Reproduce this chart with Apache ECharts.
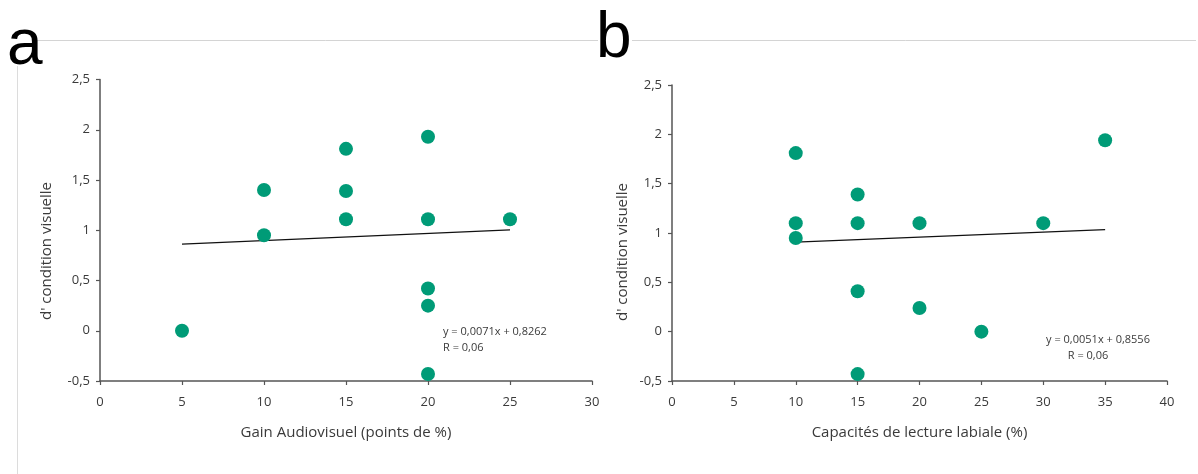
<!DOCTYPE html>
<html>
<head>
<meta charset="utf-8">
<script src="https://cdn.jsdelivr.net/npm/echarts@6/dist/echarts.min.js"></script>
<style>
html,body{margin:0;padding:0;background:#fff;}
#chart{width:1198px;height:474px;}
</style>
</head>
<body>
<div id="chart"></div>
<script>
// Panel a: Gain Audiovisuel (points de %) vs d' condition visuelle
var gainX = [5, 10, 10, 15, 15, 15, 20, 20, 25, 20, 20, 20];
var gainY = [0.00, 1.40, 0.95, 1.81, 1.39, 1.11, 1.93, 1.11, 1.11, 0.42, 0.25, -0.43];
// Panel b: Capacités de lecture labiale (%) vs d' condition visuelle
var lectX = [10, 10, 10, 15, 15, 15, 15, 20, 20, 25, 30, 35];
var lectY = [1.81, 1.10, 0.95, 1.39, 1.10, 0.41, -0.43, 1.10, 0.24, 0.00, 1.10, 1.94];
// Regression lines (slope, intercept, x range) as printed on the chart
var fitA = {slope: 0.0071, intercept: 0.8262, x: [5, 25]};
var fitB = {slope: 0.0051, intercept: 0.8556, x: [10, 35]};
var eqA = ["y = 0,0071x + 0,8262", "R = 0,06"];
var eqB = ["y = 0,0051x + 0,8556", "R = 0,06"];
var yTicks = [-0.5, 0, 0.5, 1, 1.5, 2, 2.5];
var panelLabels = ["a", "b"];
var xTitles = ["Gain Audiovisuel (points de %)", "Capacités de lecture labiale (%)"];
var yTitle = "d' condition visuelle";

var FONT = '"Open Sans", "Noto Sans", sans-serif';
var DOT = '#009b77';
var AXIS = '#555555';
var TXT = '#3a3a3a';

function pts(xs, ys){ return xs.map(function(x,i){ return [x, ys[i]]; }); }
function fitLine(f){ return f.x.map(function(x){ return [x, f.slope*x + f.intercept]; }); }
function comma(v){ return String(v).replace('.', ','); }

function xAxis(idx, max, title){
  return {
    type:'value', gridIndex: idx, min:0, max:max, interval:5,
    splitLine:{show:false},
    axisLine:{show:true, onZero:false, lineStyle:{color:AXIS, width:1.5}},
    axisTick:{show:true, length:4, lineStyle:{color:AXIS, width:1.2}},
    axisLabel:{color:TXT, fontSize:13, fontFamily:FONT, margin:15},
    name:title, nameLocation:'middle', nameGap:44,
    nameTextStyle:{color:TXT, fontSize:15, fontFamily:FONT}
  };
}
function yAxis(idx){
  return {
    type:'value', gridIndex: idx, min:-0.5, max:2.5, interval:0.5,
    splitLine:{show:false},
    axisLine:{show:true, onZero:false, lineStyle:{color:AXIS, width:1.5}},
    axisTick:{show:true, length:4, lineStyle:{color:AXIS, width:1.2}},
    axisLabel:{color:TXT, fontSize:13, fontFamily:FONT, margin:10, formatter: comma}
  };
}

var chart = echarts.init(document.getElementById('chart'), null, {renderer:'canvas'});
chart.setOption({
  animation:false,
  backgroundColor:'#ffffff',
  grid:[
    {left:100, right:606, top:79.5, bottom:93},
    {left:672, right:31, top:85, bottom:93}
  ],
  xAxis:[ xAxis(0, 30, xTitles[0]), xAxis(1, 40, xTitles[1]) ],
  yAxis:[ yAxis(0), yAxis(1) ],
  graphic:[
    {type:'line', shape:{x1:35, y1:40.5, x2:1196, y2:40.5}, style:{stroke:'#d4d4d4', lineWidth:1}, z:0},
    {type:'line', shape:{x1:17.5, y1:60, x2:17.5, y2:474}, style:{stroke:'#dcdcdc', lineWidth:1}, z:0},
    {type:'rect', shape:{x:8, y:20, width:28, height:46}, style:{fill:'#fff'}, z:1},
    {type:'text', left:7, top:14, z:2, style:{text:panelLabels[0], font:'64px "Liberation Sans", Arial, sans-serif', fill:'#000'}},
    {type:'rect', shape:{x:598, y:14, width:34, height:50}, style:{fill:'#fff'}, z:1},
    {type:'text', left:596, top:7, z:2, style:{text:panelLabels[1], font:'64px "Liberation Sans", Arial, sans-serif', fill:'#000'}},
    {type:'text', x:47, y:251, rotation:Math.PI/2, z:2,
      style:{text:yTitle, font:'15px ' + FONT, fill:TXT, textAlign:'center', textVerticalAlign:'middle'}},
    {type:'text', x:623, y:252, rotation:Math.PI/2, z:2,
      style:{text:yTitle, font:'15px ' + FONT, fill:TXT, textAlign:'center', textVerticalAlign:'middle'}},
    {type:'text', x:443, y:340, z:2,
      style:{text:eqA.join('\n'), font:'11px ' + FONT, fill:TXT, textAlign:'left', textVerticalAlign:'middle', lineHeight:16}},
    {type:'text', x:1098, y:340, z:2,
      style:{text:eqB[0], font:'11px ' + FONT, fill:TXT, textAlign:'center', textVerticalAlign:'middle'}},
    {type:'text', x:1088, y:356, z:2,
      style:{text:eqB[1], font:'11px ' + FONT, fill:TXT, textAlign:'center', textVerticalAlign:'middle'}}
  ],
  series:[
    {type:'line', xAxisIndex:0, yAxisIndex:0, data:fitLine(fitA), symbol:'none',
      lineStyle:{color:'#111', width:1.2}, z:2},
    {type:'scatter', xAxisIndex:0, yAxisIndex:0, data:pts(gainX, gainY), symbol:'circle',
      symbolSize:14, itemStyle:{color:DOT, opacity:1}, z:3},
    {type:'line', xAxisIndex:1, yAxisIndex:1, data:fitLine(fitB), symbol:'none',
      lineStyle:{color:'#111', width:1.2}, z:2},
    {type:'scatter', xAxisIndex:1, yAxisIndex:1, data:pts(lectX, lectY), symbol:'circle',
      symbolSize:14, itemStyle:{color:DOT, opacity:1}, z:3}
  ]
});
</script>
</body>
</html>
